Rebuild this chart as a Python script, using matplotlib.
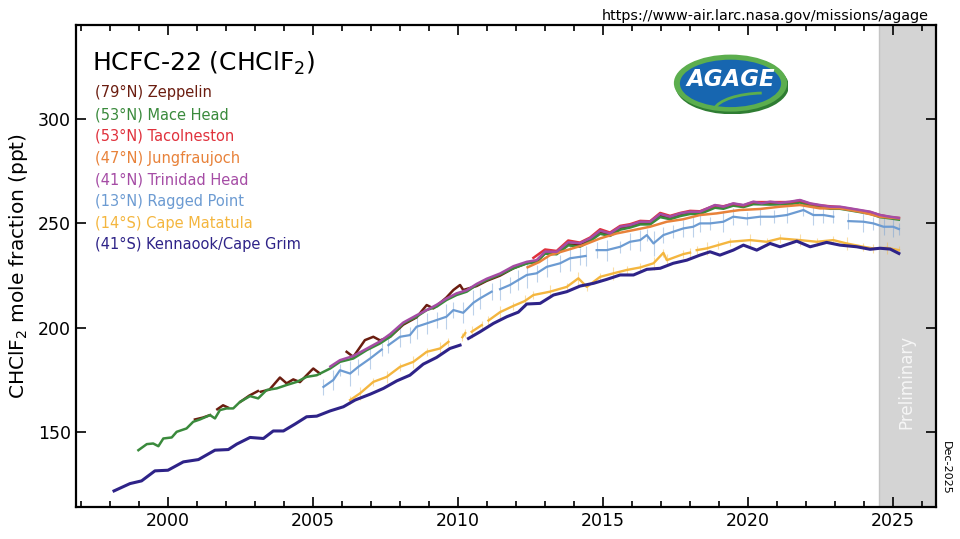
import numpy as np
import matplotlib
matplotlib.use('Agg')
import matplotlib.pyplot as plt
import matplotlib.patches as patches
from matplotlib.ticker import MultipleLocator

plt.rcParams['font.family'] = ['DejaVu Sans']

# ---- data (ppt) ----
zep_t = [2000.93, 2001.2, 2001.45, 2001.58, 2001.7, 2001.9, 2002.07, 2002.3, 2002.5, 2002.8,
         2003.1, 2003.15, 2003.2, 2003.5, 2003.86, 2004.09, 2004.32, 2004.55, 2004.95, 2005.01,
         2005.24, 2005.7, 2006.16, 2006.39, 2006.79, 2007.08, 2007.31, 2007.66, 2008.11, 2008.57,
         2008.92, 2009.15, 2009.26, 2009.6, 2009.84, 2010.07, 2010.18, 2010.64, 2010.99, 2011.45,
         2011.91, 2012.37, 2012.71, 2013.0, 2013.4, 2013.8, 2014.2, 2014.55, 2014.9, 2015.24,
         2015.59, 2015.93, 2016.28, 2016.62, 2016.97, 2017.31, 2017.66, 2018.0, 2018.34, 2018.86,
         2019.15, 2019.49, 2019.84, 2020.18, 2020.76, 2021.45, 2021.79, 2022.14, 2022.48, 2022.83,
         2023.17, 2023.52, 2023.86, 2024.21]
zep_v = [156.1, 157.0, 158.2, None, 161.0, 162.9, 161.8, None, 164.6, 167.5,
         169.7, None, 169.4, 170.4, 176.2, 173.4, 175.3, 174.0, 179.7, 180.5,
         178.1, None, 188.5, 186.1, 194.1, 195.7, 194.0, 195.7, 201.5, 205.0,
         210.9, 209.3, 210.5, 214.5, 218.1, 220.5, 218.1, 220.0, 222.5, 225.0,
         228.5, 231.0, 231.8, 235.8, 235.5, 240.0, 239.5, 242.0, 245.5, 244.8,
         247.8, 248.5, 250.0, 250.0, 253.8, 252.8, 254.2, 255.2, 255.0, 258.2,
         257.6, 259.0, 258.4, 259.8, 259.6, 259.6, 260.8, 259.0, 258.2, 257.6,
         257.4, 256.6, 255.8, 255.0]

mhd_t = [1998.98, 1999.27, 1999.49, 1999.67, 1999.84, 2000.13, 2000.3, 2000.64, 2000.87, 2001.1,
         2001.45, 2001.62, 2001.79, 2002.02, 2002.25, 2002.48, 2002.83, 2003.11, 2003.4, 2003.75,
         2004.09, 2004.44, 2004.78, 2005.13, 2005.59, 2005.93, 2006.39, 2006.85, 2007.31, 2007.66,
         2008.11, 2008.57, 2008.92, 2009.26, 2009.6, 2009.95, 2010.3, 2010.64, 2010.99, 2011.45,
         2011.91, 2012.37, 2012.71, 2013.0, 2013.4, 2013.8, 2014.2, 2014.55, 2014.9, 2015.24,
         2015.59, 2015.93, 2016.28, 2016.62, 2016.97, 2017.31, 2017.66, 2018.0, 2018.34, 2018.86,
         2019.15, 2019.49, 2019.84, 2020.18, 2020.76, 2021.45, 2021.79, 2022.14, 2022.48, 2022.83,
         2023.17, 2023.52, 2023.86, 2024.21, 2024.55, 2024.9, 2025.2]
mhd_v = [141.4, 144.3, 144.6, 143.3, 147.0, 147.5, 150.2, 151.8, 155.0, 156.1,
         158.2, 156.6, 160.6, 161.4, 161.4, 164.5, 167.3, 166.2, 170.2, 171.0,
         172.6, 174.1, 176.5, 177.3, 180.5, 183.7, 185.3, 189.3, 192.5, 195.7,
         202.1, 205.3, 208.5, 210.1, 213.3, 215.7, 217.3, 220.5, 222.9, 225.5,
         228.5, 230.8, 231.5, 235.5, 235.2, 239.5, 238.8, 241.5, 245.0, 244.0,
         247.0, 248.0, 249.5, 249.5, 253.0, 252.0, 253.5, 254.5, 254.5, 257.5,
         257.0, 258.5, 257.8, 259.2, 259.0, 259.2, 260.0, 258.5, 257.8, 257.0,
         257.0, 256.2, 255.4, 254.6, 253.0, 252.4, 251.8]

tac_t = [2012.6, 2013.0, 2013.4, 2013.8, 2014.2, 2014.55, 2014.9, 2015.24, 2015.59, 2015.93,
         2016.28, 2016.62, 2016.97, 2017.31, 2017.66, 2018.0, 2018.34, 2018.86, 2019.15, 2019.49,
         2019.84, 2020.18, 2020.76, 2021.45, 2021.79, 2022.14, 2022.48, 2022.83, 2023.17, 2023.52,
         2023.86, 2024.21, 2024.55, 2024.9, 2025.2]
tac_v = [233.5, 237.5, 236.8, 241.8, 240.8, 243.2, 247.2, 245.6, 248.8, 249.6,
         251.2, 251.0, 255.0, 253.6, 255.0, 256.0, 255.8, 258.6, 258.2, 259.4,
         258.6, 260.2, 260.2, 260.2, 261.0, 259.4, 258.6, 258.2, 257.8, 257.0,
         256.2, 255.4, 254.0, 253.0, 252.6]

jfj_t = [2012.4, 2012.8, 2013.17, 2013.75, 2014.32, 2014.9, 2015.47, 2016.05, 2016.62, 2017.2,
         2017.77, 2018.34, 2018.92, 2019.4, 2019.72, 2020.41, 2021.1, 2021.79, 2022.48, 2023.17,
         2023.86, 2024.55, 2025.2]
jfj_v = [229.0, 231.5, 234.8, 237.2, 239.6, 242.8, 245.2, 246.8, 248.4, 250.8,
         252.0, 254.0, 254.8, 255.8, 256.4, 256.9, 258.0, 258.8, 257.2, 257.2,
         255.6, 253.2, 252.4]

thd_t = [2005.6, 2005.93, 2006.39, 2006.85, 2007.31, 2007.66, 2008.11, 2008.57, 2008.92, 2009.26,
         2009.6, 2009.95, 2010.3, 2010.64, 2010.99, 2011.45, 2011.91, 2012.37, 2012.71, 2013.0,
         2013.4, 2013.8, 2014.2, 2014.55, 2014.9, 2015.24, 2015.59, 2015.93, 2016.28, 2016.62,
         2016.97, 2017.31, 2017.66, 2018.0, 2018.34, 2018.86, 2019.15, 2019.49, 2019.84, 2020.18,
         2020.47, 2020.76, 2021.1, 2021.45, 2021.79, 2022.14, 2022.48, 2022.83, 2023.17, 2023.52,
         2023.86, 2024.21, 2024.55, 2024.9, 2025.2]
thd_v = [181.5, 184.5, 186.5, 190.0, 193.5, 197.0, 202.5, 206.0, 208.5, 211.0,
         214.0, 216.5, 218.0, 221.0, 223.5, 226.0, 229.5, 231.6, 232.4, 236.5,
         236.4, 241.0, 240.5, 242.8, 246.5, 245.2, 248.4, 249.2, 250.8, 250.8,
         254.5, 253.2, 254.8, 255.6, 255.6, 258.8, 258.0, 259.6, 258.8, 260.4,
         259.6, 260.4, 259.8, 260.4, 261.2, 259.6, 258.8, 258.0, 258.0, 257.2,
         256.4, 255.6, 254.0, 253.2, 252.6]

rpb_t = [2005.36, 2005.7, 2005.93, 2006.28, 2006.56, 2006.97, 2007.37, 2007.48, 2007.6, 2008.0,
         2008.34, 2008.57, 2008.92, 2009.26, 2009.6, 2009.84, 2010.18, 2010.53, 2010.76, 2011.16,
         2011.3, 2011.45, 2011.79, 2012.08, 2012.37, 2012.71, 2013.06, 2013.52, 2013.86, 2014.21,
         2014.4, 2014.6, 2014.78, 2015.13, 2015.59, 2015.93, 2016.28, 2016.51, 2016.74, 2017.08,
         2017.42, 2017.77, 2018.11, 2018.34, 2018.69, 2019.15, 2019.49, 2019.95, 2020.41, 2020.88,
         2021.33, 2021.91, 2022.25, 2022.6, 2022.94, 2023.2, 2023.46, 2023.98, 2024.32, 2024.67,
         2025.0, 2025.2]
rpb_v = [171.7, 175.0, 179.7, 178.1, 181.3, 185.3, 189.6, None, 191.7, 195.7,
         196.5, 200.5, 202.1, 203.7, 205.3, 208.5, 207.2, 212.0, 214.1, 217.3,
         None, 218.5, 220.5, 222.9, 225.3, 226.1, 229.2, 230.9, 233.3, 234.0,
         234.4, None, 237.2, 237.2, 238.8, 241.2, 242.0, 244.4, 240.4, 244.4,
         246.0, 247.6, 248.4, 250.0, 250.0, 250.8, 253.2, 252.4, 253.2, 253.2,
         254.0, 256.4, 254.0, 254.0, 253.2, None, 251.1, 250.8, 250.0, 248.4,
         248.4, 247.3]
rpb_err = [4, 5, 3, 6, 4, 5, 3, 0, 4, 5,
           4, 6, 5, 4, 6, 4, 5, 6, 5, 4,
           0, 5, 4, 5, 6, 4, 5, 4, 6, 4,
           5, 0, 4, 5, 3, 4, 5, 3, 6, 4,
           3, 4, 5, 4, 3, 5, 4, 3, 4, 3,
           4, 3, 5, 4, 3, 0, 4, 5, 3, 4,
           5, 3]

smo_t = [2006.28, 2006.62, 2007.08, 2007.54, 2008.0, 2008.46, 2008.92, 2009.38, 2009.67, 2009.9,
         2010.15, 2010.25, 2010.36, 2010.47, 2010.82, 2010.95, 2011.05, 2011.45, 2011.91, 2012.3,
         2012.6, 2013.17, 2013.75, 2014.15, 2014.44, 2014.9, 2015.36, 2015.82, 2016.28, 2016.74,
         2017.08, 2017.2, 2017.77, 2018.0, 2018.12, 2018.23, 2018.57, 2018.97, 2019.37, 2020.07,
         2020.64, 2021.1, 2021.79, 2022.37, 2022.94, 2023.4, 2023.98, 2024.32, 2024.78, 2025.2]
smo_v = [165.4, 168.6, 174.1, 176.5, 181.3, 183.7, 188.5, 190.1, 193.3, None,
         195.5, 197.5, None, 198.1, 201.3, None, 203.5, 207.5, 210.5, 212.8,
         215.7, 217.3, 219.6, 223.7, 219.6, 224.4, 226.1, 227.7, 228.9, 230.9,
         235.9, 232.4, 235.3, 236.0, None, 237.2, 238.0, 239.6, 241.2, 242.0,
         241.2, 242.8, 242.0, 241.2, 242.0, 240.4, 238.8, 238.0, 238.3, 237.2]
smo_err = [2, 3, 2, 3, 2, 3, 2, 3, 2, 0,
           2, 2, 0, 3, 2, 0, 2, 3, 2, 3,
           2, 3, 2, 3, 2, 2, 3, 2, 2, 3,
           2, 3, 2, 2, 0, 2, 3, 2, 2, 3,
           2, 2, 3, 2, 2, 3, 2, 2, 3, 2]

cgo_t = [1998.14, 1998.69, 1999.09, 1999.55, 2000.0, 2000.53, 2001.05, 2001.62, 2002.08, 2002.37,
         2002.83, 2003.29, 2003.63, 2003.98, 2004.38, 2004.78, 2005.13, 2005.59, 2006.05, 2006.45,
         2006.97, 2007.43, 2007.89, 2008.34, 2008.80, 2009.26, 2009.72, 2010.07, 2010.2, 2010.36,
         2010.76, 2011.22, 2011.68, 2012.08, 2012.37, 2012.83, 2013.29, 2013.75, 2014.21, 2014.67,
         2015.13, 2015.59, 2016.05, 2016.51, 2016.97, 2017.42, 2017.89, 2018.34, 2018.69, 2019.03,
         2019.49, 2019.84, 2020.30, 2020.76, 2021.10, 2021.68, 2022.14, 2022.71, 2023.17, 2023.75,
         2024.21, 2024.55, 2024.90, 2025.20]
cgo_v = [121.9, 125.4, 126.7, 131.5, 131.8, 135.8, 136.9, 141.4, 141.7, 144.3,
         147.5, 147.0, 150.6, 150.6, 153.9, 157.4, 157.7, 160.2, 162.2, 165.4,
         168.2, 171.0, 174.6, 177.3, 182.6, 185.8, 190.1, 191.7, None, 194.9,
         198.1, 202.1, 205.3, 207.5, 211.4, 211.7, 215.7, 217.3, 220.0, 221.3,
         223.2, 225.3, 225.3, 228.0, 228.5, 230.9, 232.4, 234.8, 236.4, 234.8,
         237.2, 239.6, 237.2, 240.4, 238.8, 241.5, 238.8, 240.9, 239.6, 238.8,
         237.6, 238.1, 237.7, 235.6]

stations = ['(79°N) Zeppelin', '(53°N) Mace Head', '(53°N) Tacolneston', '(47°N) Jungfraujoch',
            '(41°N) Trinidad Head', '(13°N) Ragged Point', '(14°S) Cape Matatula',
            '(41°S) Kennaook/Cape Grim']
colors = ['#6b1d10', '#3a8a3c', '#e0313c', '#e8823a', '#a54ca5', '#6c9bd2', '#f4b63f', '#2e2388']
series = [(zep_t, zep_v), (mhd_t, mhd_v), (tac_t, tac_v), (jfj_t, jfj_v),
          (thd_t, thd_v), (rpb_t, rpb_v), (smo_t, smo_v), (cgo_t, cgo_v)]
errors = [None, None, None, None, None, rpb_err, smo_err, None]
widths = [1.8, 1.8, 1.8, 1.8, 1.8, 1.6, 1.7, 2.2]

fig = plt.figure(figsize=(9.6, 5.39), dpi=100)
ax = fig.add_axes([0.0792, 0.0594, 0.8958, 0.8942])

ax.axvspan(2024.5, 2026.6, facecolor='#d4d4d4', edgecolor='#c4c4c4', lw=1, zorder=0)
ax.text(2025.45, 174, 'Preliminary', rotation=90, ha='center', va='center',
        fontsize=12, color='#f6f6f6', zorder=1)

for (t, v), err, c, lw in zip(series, errors, colors, widths):
    t = np.array(t, dtype=float)
    v = np.array(v, dtype=float)
    if err is not None:
        ax.errorbar(t, v, yerr=np.array(err, dtype=float), fmt='none', ecolor=c,
                    elinewidth=0.8, alpha=0.45, zorder=2)
    ax.plot(t, v, color=c, lw=lw, zorder=3)

ax.set_xlim(1996.83, 2026.48)
ax.set_ylim(114.2, 345)
ax.xaxis.set_major_locator(MultipleLocator(5))
ax.xaxis.set_minor_locator(MultipleLocator(1))
ax.yaxis.set_major_locator(MultipleLocator(50))
ax.tick_params(which='both', direction='in', top=True, right=True, labelsize=12.5, width=1.2)
ax.tick_params(which='major', length=7)
ax.tick_params(which='minor', length=4)
for s in ax.spines.values():
    s.set_linewidth(1.6)

ax.set_ylabel('CHClF$_2$ mole fraction (ppt)', fontsize=14.5, labelpad=6)

# title and station list
ax.text(0.019, 0.905, 'HCFC-22 (CHClF$_2$)', transform=ax.transAxes, fontsize=18,
        ha='left', va='baseline')
for i, (name, c) in enumerate(zip(stations, colors)):
    ax.text(0.022, 0.859 - i * 0.045, name, transform=ax.transAxes, fontsize=10.5,
            color=c, ha='left', va='center')

fig.text(0.967, 0.970, 'https://www-air.larc.nasa.gov/missions/agage', ha='right',
         va='center', fontsize=10.4)
fig.text(0.985, 0.132, 'Dec-2025', rotation=-90, ha='center', va='center', fontsize=8)

# AGAGE logo
lg = fig.add_axes([673 / 960, 1 - 114 / 539, 115 / 960, 60 / 539])
lg.set_xlim(-1, 1); lg.set_ylim(-1, 1)
lg.axis('off')
lg.add_patch(patches.Ellipse((0.03, -0.07), 1.97, 1.88, facecolor='#2f7d33'))
lg.add_patch(patches.Ellipse((0, 0.03), 1.97, 1.9, facecolor='#5cae4e'))
lg.add_patch(patches.Ellipse((0, 0.02), 1.76, 1.58, facecolor='#1766b0'))
lg.add_patch(patches.Arc((0.6, -0.95), 1.8, 1.3, theta1=95, theta2=172, color='#5cae4e', lw=2))
lg.text(0.0, 0.14, 'AGAGE', ha='center', va='center', fontsize=16.5, fontweight='bold',
        style='italic', color='white')

fig.savefig('out.png', dpi=100)
